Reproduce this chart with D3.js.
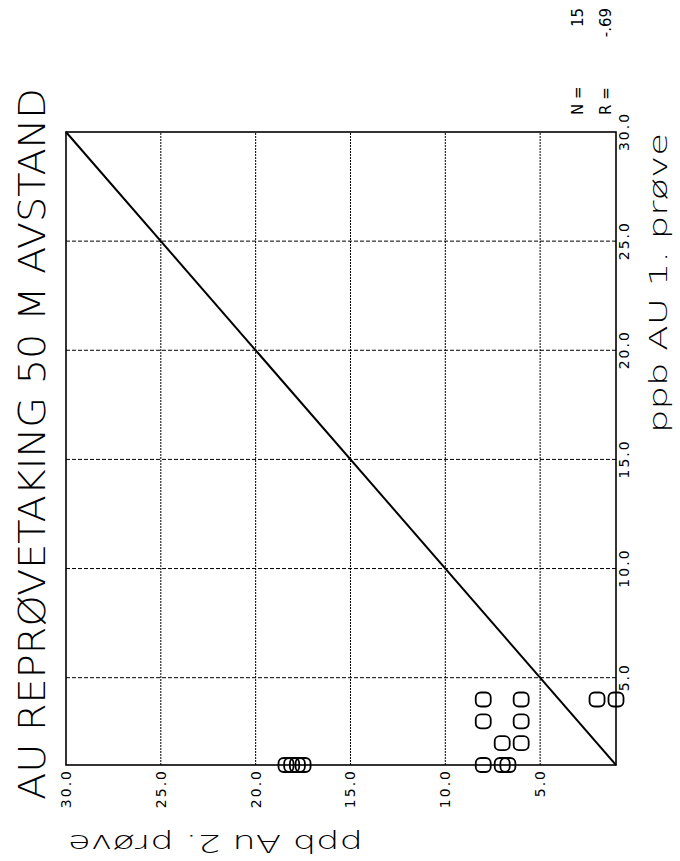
<!DOCTYPE html>
<html>
<head>
<meta charset="utf-8">
<script src="https://cdn.jsdelivr.net/npm/d3@7"></script>
<style>
  body { margin: 0; background: #fff; }
  text { font-family: "DejaVu Sans", sans-serif; fill: #000; }
  .thin { font-family: "DejaVu Sans ExtraLight", "DejaVu Sans", sans-serif; font-weight: 200; }
</style>
</head>
<body>
<div id="chart"></div>
<script>
// values (ppb Au, 1. and 2. sample)
var prove1 = [4, 4, 3, 3, 2, 2, 1, 1, 1, 4, 4, 1, 1, 1, 1];
var prove2 = [8, 6, 8, 6, 7, 6, 8, 7, 6.7, 2, 1, 18.4, 18.1, 17.8, 17.5];
var tickValues = [5, 10, 15, 20, 25, 30];
var gridValues = [5, 10, 15, 20, 25];
var titleText = "AU REPRØVETAKING 50 M AVSTAND";
var xLabel = "ppb AU 1. prøve";
var yLabel = "ppb Au 2. prøve";
var statNames = ["N =", "R ="];
var statValues = ["15", "-.69"];

var W = 680, H = 861;

var svg = d3.select("#chart").append("svg")
    .attr("width", W)
    .attr("height", H);

// the plot sheet lies on its side: draw it normally, then turn it -90deg
var g = svg.append("g")
    .attr("transform", "translate(0," + H + ") rotate(-90)");

var x = d3.scaleLinear().domain([1, 30]).range([96, 729]);
var y = d3.scaleLinear().domain([1, 30]).range([616, 66]);

// dotted grid
g.selectAll(".gx").data(gridValues).enter().append("line")
    .attr("x1", d => x(d)).attr("x2", d => x(d))
    .attr("y1", y(1)).attr("y2", y(30))
    .attr("stroke", "#000").attr("stroke-width", 1)
    .attr("stroke-dasharray", "4,2");

g.selectAll(".gy").data(gridValues).enter().append("line")
    .attr("y1", d => y(d)).attr("y2", d => y(d))
    .attr("x1", x(1)).attr("x2", x(30))
    .attr("stroke", "#000").attr("stroke-width", 1)
    .attr("stroke-dasharray", "2,1");

// frame
g.append("rect")
    .attr("x", x(1)).attr("y", y(30))
    .attr("width", x(30) - x(1)).attr("height", y(1) - y(30))
    .attr("fill", "none").attr("stroke", "#000").attr("stroke-width", 1.6);

// 1:1 line
g.append("line")
    .attr("x1", x(1)).attr("y1", y(1))
    .attr("x2", x(30)).attr("y2", y(30))
    .attr("stroke", "#000").attr("stroke-width", 2);

// axes (labels only)
var xAxis = g.append("g")
    .attr("transform", "translate(0," + y(1) + ")")
    .call(d3.axisBottom(x).tickValues(tickValues).tickSize(0).tickPadding(3).tickFormat(d3.format(".1f")));
var yAxis = g.append("g")
    .attr("transform", "translate(" + x(1) + ",0)")
    .call(d3.axisLeft(y).tickValues(tickValues).tickSize(0).tickPadding(4).tickFormat(d3.format(".1f")));
[xAxis, yAxis].forEach(function(a) {
    a.select(".domain").remove();
    a.selectAll("text")
        .style("font-family", "'DejaVu Sans', sans-serif")
        .style("font-size", "14px")
        .style("letter-spacing", "2px")
        .attr("fill", "#000");
});

// points, drawn as plotter "O" markers
g.selectAll(".pt").data(prove1).enter().append("rect")
    .attr("x", (d, i) => x(d) - 7)
    .attr("y", (d, i) => y(prove2[i]) - 7.5)
    .attr("width", 14).attr("height", 15)
    .attr("rx", 5).attr("ry", 5)
    .attr("fill", "none").attr("stroke", "#000").attr("stroke-width", 1.8);

// title
g.append("text")
    .attr("class", "thin")
    .attr("x", 61).attr("y", 45)
    .attr("textLength", 712).attr("lengthAdjust", "spacingAndGlyphs")
    .style("font-size", "37px")
    .text(titleText);

// axis titles
g.append("text")
    .attr("class", "thin")
    .attr("x", 428).attr("y", 667)
    .attr("textLength", 300).attr("lengthAdjust", "spacingAndGlyphs")
    .style("font-size", "24px")
    .text(xLabel);

g.append("text")
    .attr("class", "thin")
    .attr("transform", "translate(26,363) rotate(-90)")
    .attr("textLength", 295).attr("lengthAdjust", "spacingAndGlyphs")
    .style("font-size", "24px")
    .text(yLabel);

// statistics
statNames.forEach(function(s, i) {
    g.append("text")
        .attr("x", 746).attr("y", 583 + i * 28)
        .style("font-size", "15px")
        .text(s);
    g.append("text")
        .attr("x", 853).attr("y", 583 + i * 28)
        .attr("text-anchor", "end")
        .style("font-size", "15px")
        .text(statValues[i]);
});
</script>
</body>
</html>
